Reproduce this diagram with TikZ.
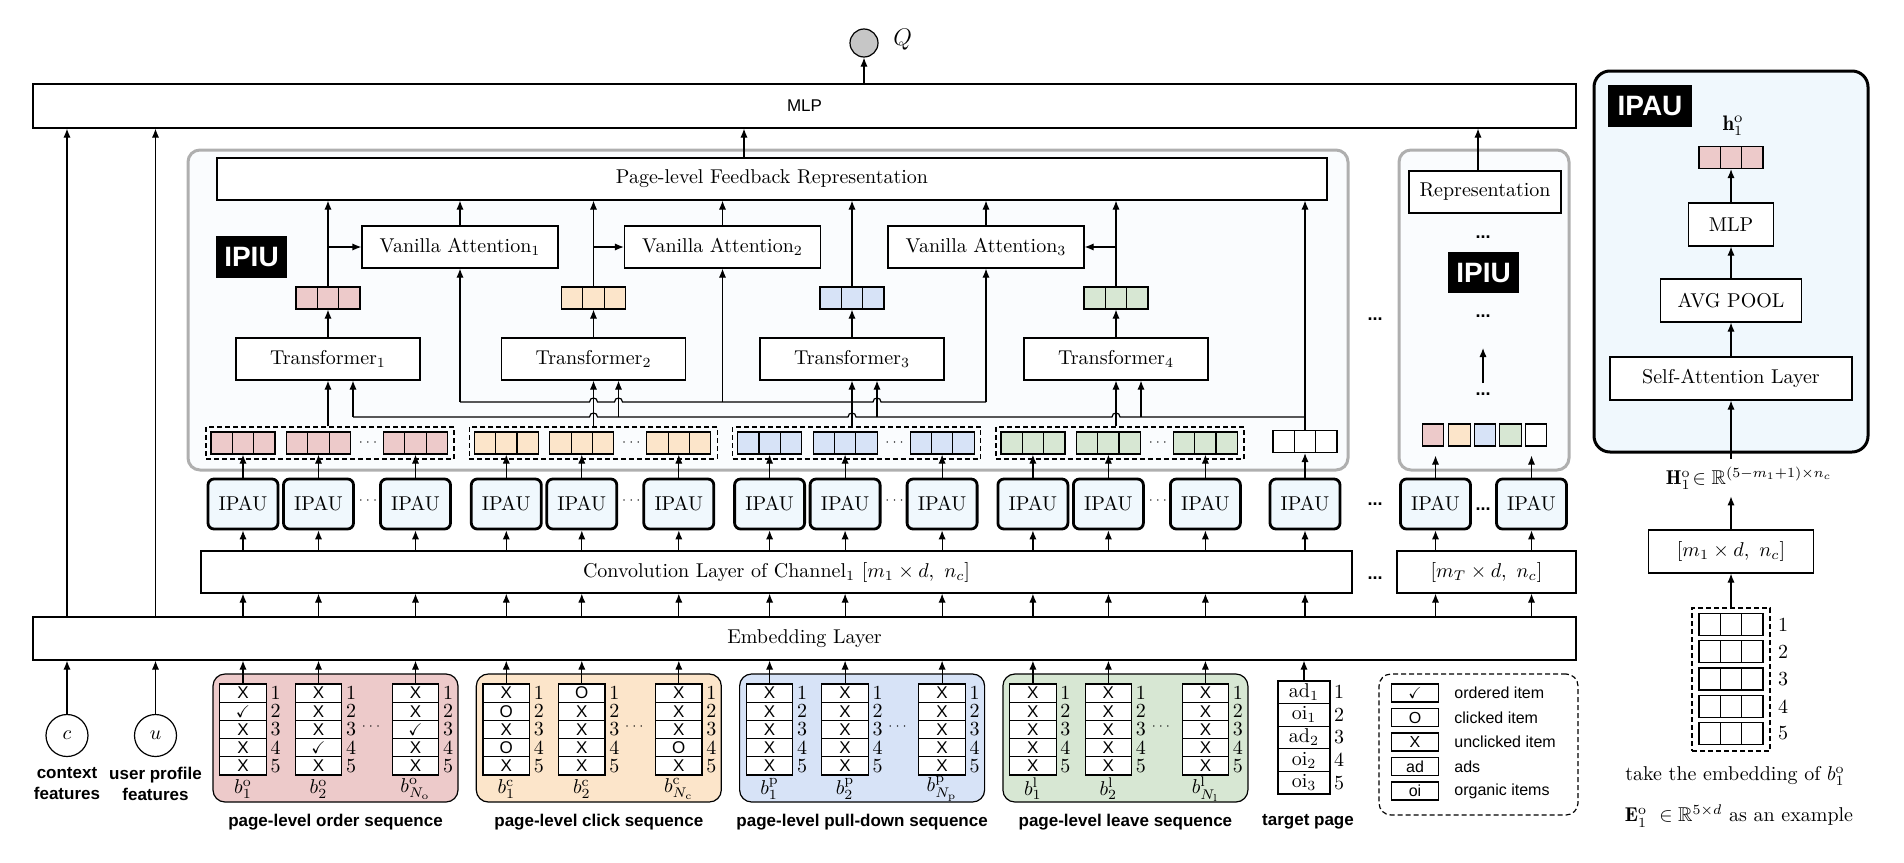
\documentclass[tikz,border=0pt]{standalone}
\usepackage{amssymb}
\usepackage{fontspec}
\setsansfont{Liberation Sans}
\usetikzlibrary{arrows.meta}

\definecolor{pinkc}{RGB}{237,202,202}
\definecolor{orangec}{RGB}{252,229,202}
\definecolor{bluec}{RGB}{215,227,247}
\definecolor{greenc}{RGB}{215,231,211}
\definecolor{ipaufill}{RGB}{240,248,253}
\definecolor{ipiufill}{RGB}{250,252,254}
\definecolor{ipiuline}{RGB}{175,175,175}

\newcommand\cX{\sffamily X}
\newcommand\cO{\sffamily O}
\newcommand\cC{$\checkmark$}

\tikzset{
  ln/.style={line width=0.6pt},
  arr/.style={ln,-{Latex[length=4.5pt,width=3.6pt]}},
  bx/.style 2 args={draw,ln,inner sep=0pt,fill=white,minimum width=#1*0.5pt,minimum height=#2*0.5pt,font=\fontsize{10}{12}\selectfont},
  vecthree/.style={draw,ln,fill=#1,inner sep=0pt,minimum width=32pt,minimum height=11pt,
    path picture={\draw[ln] ([xshift=-5.33pt]path picture bounding box.north) -- ([xshift=-5.33pt]path picture bounding box.south);
                  \draw[ln] ([xshift=5.33pt]path picture bounding box.north) -- ([xshift=5.33pt]path picture bounding box.south);}},
  sq/.style={draw,ln,fill=#1,inner sep=0pt,minimum width=10.75pt,minimum height=11pt},
  ipau/.style={draw,line width=1.4pt,rounded corners=3pt,fill=ipaufill,inner sep=0pt,minimum width=35pt,minimum height=25pt,font=\fontsize{10}{12}\selectfont},
  cell/.style={draw,ln,fill=white,inner sep=0pt,minimum width=23.25pt,minimum height=9.1pt,font=\sffamily\fontsize{8.5}{9}\selectfont},
  tcell/.style={draw,ln,fill=white,inner sep=0pt,minimum width=26pt,minimum height=11.3pt,font=\fontsize{10}{10}\selectfont},
  lcell/.style={draw,ln,fill=white,inner sep=0pt,minimum width=23.5pt,minimum height=9pt,font=\sffamily\fontsize{8}{9}\selectfont},
  num/.style={inner sep=0pt,font=\fontsize{10}{10}\selectfont},
  captxt/.style={inner sep=0pt,align=center,font=\sffamily\bfseries\fontsize{8.5}{10.5}\selectfont},
  ltext/.style={inner sep=0pt,anchor=west,font=\sffamily\fontsize{8}{9}\selectfont},
  panel/.style={draw,ln,rounded corners=6pt,inner sep=0pt,minimum width=122.5pt,minimum height=64pt,fill=#1},
  dgroup/.style={draw,ln,dash pattern=on 2.5pt off 1.5pt,inner sep=0pt,minimum width=124pt,minimum height=16pt},
  sdots/.style={inner sep=0pt,font=\fontsize{6}{6}\selectfont},
  bdots/.style={inner sep=0pt,anchor=base,font=\sffamily\bfseries\fontsize{9}{9}\selectfont},
  blk/.style={fill=black,text=white,inner sep=0pt,font=\sffamily\bfseries\fontsize{14}{14}\selectfont},
  blab/.style={inner sep=0pt,font=\fontsize{10}{10}\selectfont},
}

\newcommand\itemcol[4]{%
  \foreach \t [count=\r] in {#3} {
    \node[cell] (#1r\r) at (#2,{684+18.2*\r-9.1}) {\t};
    \node[num] at ({#2+32.5},{684+18.2*\r-9.1}) {\r};
  }
  \node[blab] (#1lab) at (#2,789) {#4};
  \draw[arr] (#1r1.north) -- (#1r1.north |- emb.south);
}

\begin{document}
\begin{tikzpicture}[x=0.5pt,y=-0.5pt]
\useasboundingbox (0,0) rectangle (1904,862);

% ---------- top ----------
\node[circle,draw,ln,fill=gray!45,minimum size=14pt,inner sep=0pt] (q) at (864,43) {};
\node[inner sep=0pt,anchor=west,font=\large] (qlab) at (893,40) {$Q$};
\node[bx={1543}{44},font=\sffamily\fontsize{8.5}{10}\selectfont] (mlp) at (804.5,106) {MLP};
\draw[arr] (mlp.north -| q) -- (q.south);

% ---------- IPIU containers ----------
\node[draw=ipiuline,line width=1.5pt,rounded corners=6pt,fill=ipiufill,inner sep=0pt,minimum width=580pt,minimum height=160pt] (ipiu) at (768,310) {};
\node[draw=ipiuline,line width=1.5pt,rounded corners=6pt,fill=ipiufill,inner sep=0pt,minimum width=85pt,minimum height=160pt] (ipiuR) at (1484,310) {};

\node[bx={1110}{42}] (fb) at (772,179) {Page-level Feedback Representation};
\coordinate (fbo) at ([xshift=-14pt]fb.north);
\draw[arr] (fbo) -- (fbo |- mlp.south);

\node[bx={152}{42}] (rep) at (1485,192) {Representation};
\coordinate (repo) at ([xshift=-3.5pt]rep.north);
\draw[arr] (repo) -- (repo |- mlp.south);

\node[blk,minimum width=35.5pt,minimum height=21pt] (ipiulab) at (251.5,257) {IPIU};
\node[blk,minimum width=35.5pt,minimum height=20.5pt] (ipiulab2) at (1483.5,272.5) {IPIU};

% ---------- big boxes ----------
\node[bx={1151}{42}] (conv) at (776.5,572) {Convolution Layer of Channel$_1$ $[m_1\times d,\ n_c]$};
\node[bx={179}{42}] (convR) at (1486.5,572) {$[m_T\times d,\ n_c]$};
\node[bx={1543}{43}] (emb) at (804.5,638.5) {Embedding Layer};

% ---------- vanilla attention ----------
\foreach \j/\x in {1/460,2/722.5,3/986}{
  \node[bx={196}{42}] (va\j) at (\x,247) {Vanilla Attention$_{\j}$};
  \draw[arr] (va\j.north) -- (va\j.north |- fb.south);
  \coordinate (qa\j) at (\x,402);
  \draw[arr] (qa\j) -- (va\j.south);
}
\draw[ln] (qa1) -- (589.5,402) .. controls (589.5,396.7) and (597.5,396.7) .. (597.5,402)
  -- (614.5,402) .. controls (614.5,396.7) and (622.5,396.7) .. (622.5,402)
  -- (873,402) .. controls (873,396.7) and (881,396.7) .. (881,402) -- (qa3);

% ---------- groups: vectors, IPAU ----------
\foreach \g/\col in {0/pinkc,1/orangec,2/bluec,3/greenc}{
  \pgfmathsetmacro\L{213+263.3*\g}
  \node[dgroup] (g\g) at (\L+117,443) {};
  \node[sdots] (gd\g) at (\L+155,443) {$\cdots$};
  \node[sdots] (id\g) at (\L+155,501) {$\cdots$};
  \foreach \k/\off in {1/30,2/105.5,3/202.5}{
    \node[vecthree=\col] (v\g\k) at (\L+\off,443) {};
    \node[ipau] (ip\g\k) at (\L+\off,504) {IPAU};
    \draw[arr] (ip\g\k.north) -- (ip\g\k.north |- v\g\k.south);
    \draw[arr] (ip\g\k.south |- conv.north) -- (ip\g\k.south);
    \draw[arr] (ip\g\k.south |- emb.north) -- (ip\g\k.south |- conv.south);
  }
}

% ---------- transformers ----------
\foreach \i/\x/\col in {1/328/pinkc,2/593.5/orangec,3/852/bluec,4/1116/greenc}{
  \pgfmathtruncatemacro\j{\i-1}
  \node[bx={184}{42}] (t\i) at (\x,359) {Transformer$_{\i}$};
  \node[vecthree=\col] (o\i) at (\x,298) {};
  \draw[arr] (t\i.north) -- (o\i.south);
  \draw[arr] (o\i.north) -- (o\i.north |- fb.south);
  \draw[arr] (t\i.south |- g\j.north) -- (t\i.south);
  \coordinate (s\i) at ([xshift=12.5pt]t\i.south);
}
\draw[arr] (o1.north |- va1.west) -- (va1.west);
\draw[arr] (o2.north |- va2.west) -- (va2.west);
\draw[arr] (o4.north |- va3.east) -- (va3.east);

% target vector and bus
\node[vecthree=white] (tv) at (1305,441.5) {};
\node[ipau] (ipT) at (1305,504) {IPAU};
\draw[arr] (ipT.north) -- (tv.south);
\draw[arr] (ipT.south |- conv.north) -- (ipT.south);
\draw[arr] (ipT.south |- emb.north) -- (ipT.south |- conv.south);
\draw[arr] (tv.north) -- (tv.north |- fb.south);
\coordinate (busR) at (1305,417);
\draw[ln] (busR) -- (1120,417) .. controls (1120,411.7) and (1112,411.7) .. (1112,417)
  -- (856,417) .. controls (856,411.7) and (848,411.7) .. (848,417)
  -- (597.5,417) .. controls (597.5,411.7) and (589.5,411.7) .. (589.5,417) -- (s1 |- busR);
\foreach \i in {1,2,3,4}{
  \draw[arr] (s\i |- busR) -- (s\i);
}

% ---------- right column ----------
\node[bdots] (dA) at (1375,320) {...};
\node[bdots] (dB) at (1375,505) {...};
\node[bdots] (dC) at (1375,579) {...};
\node[bdots] (rd1) at (1483,238) {...};
\node[bdots] (rd2) at (1483,317) {...};
\node[bdots] (rd3) at (1483,395) {...};
\coordinate (rup) at (1483,383);
\draw[arr] (rup) -- ++(0,-35);
\foreach \c/\x in {pinkc/1433,orangec/1459.5,bluec/1485,greenc/1510.5,white/1536}{
  \node[sq=\c] (sq\x) at (\x,435) {};
}
\node[ipau] (ipR1) at (1435.5,504) {IPAU};
\node[ipau] (ipR2) at (1531.5,504) {IPAU};
\node[bdots] (dR) at (1483,510) {...};
\foreach \n in {1,2}{
  \draw[arr] (ipR\n.north) -- ++(0,-22);
  \draw[arr] (ipR\n.south |- convR.north) -- (ipR\n.south);
  \draw[arr] (ipR\n.south |- emb.north) -- (ipR\n.south |- convR.south);
}

% ---------- context / user ----------
\node[circle,draw,ln,minimum size=21pt,inner sep=0pt] (cc) at (67,735.5) {$c$};
\node[circle,draw,ln,minimum size=21pt,inner sep=0pt] (uu) at (155.5,735.5) {$u$};
\node[captxt] (ccl) at (67,784) {context\\features};
\node[captxt] (uul) at (155.5,784) {user profile\\features};
\draw[arr] (cc.north) -- (cc.north |- emb.south);
\draw[arr] (uu.north) -- (uu.north |- emb.south);
\draw[arr] (cc.north |- emb.north) -- (cc.north |- mlp.south);
\draw[arr] (uu.north |- emb.north) -- (uu.north |- mlp.south);

% ---------- sequence panels ----------
\node[panel=pinkc] (p0) at (335.5,738) {};
\node[panel=orangec] (p1) at (598.8,738) {};
\node[panel=bluec] (p2) at (862.1,738) {};
\node[panel=greenc] (p3) at (1125.4,738) {};

\itemcol{oa}{243}{\cX,\cC,\cX,\cX,\cX}{$b_1^{\mathrm{o}}$}
\itemcol{ob}{318.5}{\cX,\cX,\cX,\cC,\cX}{$b_2^{\mathrm{o}}$}
\itemcol{oc}{415.5}{\cX,\cX,\cC,\cX,\cX}{$b_{N_{\mathrm{o}}}^{\mathrm{o}}$}
\itemcol{ca}{506.3}{\cX,\cO,\cX,\cO,\cX}{$b_1^{\mathrm{c}}$}
\itemcol{cb}{581.8}{\cO,\cX,\cX,\cX,\cX}{$b_2^{\mathrm{c}}$}
\itemcol{cc}{678.8}{\cX,\cX,\cX,\cO,\cX}{$b_{N_{\mathrm{c}}}^{\mathrm{c}}$}
\itemcol{pa}{769.6}{\cX,\cX,\cX,\cX,\cX}{$b_1^{\mathrm{p}}$}
\itemcol{pb}{845.1}{\cX,\cX,\cX,\cX,\cX}{$b_2^{\mathrm{p}}$}
\itemcol{pc}{942.1}{\cX,\cX,\cX,\cX,\cX}{$b_{N_{\mathrm{p}}}^{\mathrm{p}}$}
\itemcol{la}{1032.9}{\cX,\cX,\cX,\cX,\cX}{$b_1^{\mathrm{l}}$}
\itemcol{lb}{1108.4}{\cX,\cX,\cX,\cX,\cX}{$b_2^{\mathrm{l}}$}
\itemcol{lc}{1205.4}{\cX,\cX,\cX,\cX,\cX}{$b_{N_{\mathrm{l}}}^{\mathrm{l}}$}

\foreach \g in {0,1,2,3}{
  \pgfmathsetmacro\L{213+263.3*\g}
  \node[sdots] (pd\g) at (\L+158,727) {$\cdots$};
}
\node[captxt] (c0) at (335.5,822) {page-level order sequence};
\node[captxt] (c1) at (598.8,822) {page-level click sequence};
\node[captxt] (c2) at (862.1,822) {page-level pull-down sequence};
\node[captxt] (c3) at (1125.4,822) {page-level leave sequence};

% ---------- target page ----------
\foreach \t [count=\r] in {ad$_1$,oi$_1$,ad$_2$,oi$_2$,oi$_3$}{
  \node[tcell] (tp\r) at (1304,{681+22.6*\r-11.3}) {\t};
  \node[num] at (1339,{681+22.6*\r-11.3}) {\r};
}
\draw[arr] (tp1.north) -- (tp1.north |- emb.south);
\node[captxt] (ctp) at (1308,822) {target page};

% ---------- legend ----------
\node[draw,ln,dash pattern=on 2.5pt off 1.5pt,rounded corners=6pt,inner sep=0pt,minimum width=99.5pt,minimum height=70.5pt] (leg) at (1478.5,744.5) {};
\foreach \c/\t [count=\r] in {\cC/ordered item,\cO/clicked item,\cX/unclicked item,ad/ads,oi/organic items}{
  \node[lcell] (le\r) at (1415,{693+24.5*(\r-1)}) {\c};
  \node[ltext] (lt\r) at (1454,{693+24.5*(\r-1)}) {\t};
}

% ---------- IPAU detail ----------
\node[draw,line width=1.5pt,rounded corners=8pt,fill=ipaufill,inner sep=0pt,minimum width=137pt,minimum height=190.5pt] (ipaup) at (1731,261.5) {};
\node[blk,minimum width=42pt,minimum height=21pt] (ipaulab) at (1650,106) {IPAU};
\node[inner sep=0pt,font=\fontsize{10.5}{11}\selectfont] (hh) at (1733,126) {$\mathbf{h}_1^{\mathrm{o}}$};
\node[vecthree=pinkc] (hv) at (1731,157.5) {};
\node[bx={85}{43}] (mlp2) at (1731,224.5) {MLP};
\node[bx={141}{43}] (avg) at (1731,300.5) {AVG POOL};
\node[bx={242}{43}] (sa) at (1731,378.5) {Self-Attention Layer};
\draw[arr] (mlp2.north) -- (hv.south);
\draw[arr] (avg.north) -- (mlp2.south);
\draw[arr] (sa.north) -- (avg.south);
\draw[arr] ([yshift=-2.5pt]ipaup.south) -- (sa.south);
\node[inner sep=0pt,font=\fontsize{10}{11}\selectfont] (HH) at (1749,478) {$\mathbf{H}_1^{\mathrm{o}}\!\in\mathbb{R}^{(5-m_1+1)\times n_c}$};
\node[bx={165}{43}] (mbox) at (1731,551.5) {$[m_1\times d,\ n_c]$};
\draw[arr] (mbox.north) -- ++(0,-33);
\node[draw,ln,dash pattern=on 2.5pt off 1.5pt,inner sep=0pt,minimum width=39pt,minimum height=71.5pt] (eg) at (1731,679.5) {};
\foreach \r in {1,...,5}{
  \node[vecthree=white] (ev\r) at (1731,{624.5+27.25*(\r-1)}) {};
  \node[num] at (1783,{624.5+27.25*(\r-1)}) {\r};
}
\draw[arr] (eg.north) -- (mbox.south);
\node[inner sep=0pt,font=\fontsize{10}{12}\selectfont] (tk) at (1735,776) {take the embedding of $b_1^{\mathrm{o}}$};
\node[inner sep=0pt,font=\fontsize{10}{12}\selectfont] (ex) at (1739,816) {$\mathbf{E}_1^{\mathrm{o}}\ \in\mathbb{R}^{5\times d}$ as an example};
\end{tikzpicture}
\end{document}
